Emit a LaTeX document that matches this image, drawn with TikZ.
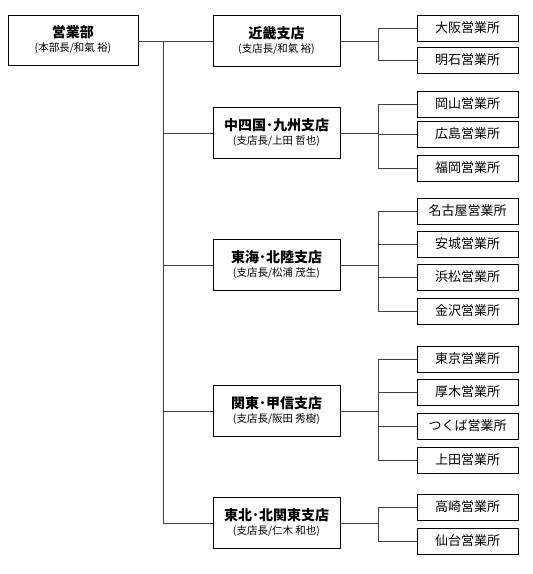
\documentclass[tikz,border=0pt]{standalone}
\usepackage{fontspec}
\setmainfont{Noto Sans CJK JP}
\newcommand{\ttlfont}{\fontsize{14}{16}\selectfont\bfseries}
\newcommand{\subfont}{\fontsize{10.5}{13}\selectfont}
\begin{document}
\begin{tikzpicture}[x=1pt,y=-1pt,
  topbox/.style={draw=black,line width=0.9pt,minimum width=130pt,minimum height=50pt,align=center,inner sep=0pt},
  branchbox/.style={draw=black,line width=0.9pt,minimum width=127pt,minimum height=51pt,align=center,inner sep=0pt},
  officebox/.style={draw=black,line width=0.9pt,minimum width=101pt,minimum height=26pt,inner sep=0pt,font=\fontsize{13}{15}\selectfont},
  conn/.style={draw=black!75,line width=0.8pt}]
\useasboundingbox (0,0) rectangle (533,574);
\node[topbox] (hq) at (73,40) {{\ttlfont 営業部}\\[2pt]{\subfont (本部長/和氣 裕)}};
\node[branchbox] (b1) at (276.5,41) {{\ttlfont 近畿支店}\\[2pt]{\subfont (支店長/和氣 裕)}};
\node[branchbox] (b2) at (276.5,133) {{\ttlfont 中四国･九州支店}\\[2pt]{\subfont (支店長/上田 哲也)}};
\node[branchbox] (b3) at (276.5,265) {{\ttlfont 東海･北陸支店}\\[2pt]{\subfont (支店長/松浦 茂生)}};
\node[branchbox] (b4) at (276.5,411) {{\ttlfont 関東･甲信支店}\\[2pt]{\subfont (支店長/阪田 秀樹)}};
\node[branchbox] (b5) at (276.5,523) {{\ttlfont 東北･北関東支店}\\[2pt]{\subfont (支店長/仁木 和也)}};
% offices
\node[officebox] (o1) at (467.5,28) {大阪営業所};
\node[officebox] (o2) at (467.5,60) {明石営業所};
\node[officebox] (o3) at (467.5,104) {岡山営業所};
\node[officebox] (o4) at (467.5,134) {広島営業所};
\node[officebox] (o5) at (467.5,168) {福岡営業所};
\node[officebox] (o6) at (467.5,211) {名古屋営業所};
\node[officebox] (o7) at (467.5,244) {安城営業所};
\node[officebox] (o8) at (467.5,277) {浜松営業所};
\node[officebox] (o9) at (467.5,311) {金沢営業所};
\node[officebox] (o10) at (467.5,359) {東京営業所};
\node[officebox] (o11) at (467.5,392) {厚木営業所};
\node[officebox] (o12) at (467.5,426) {つくば営業所};
\node[officebox] (o13) at (467.5,460) {上田営業所};
\node[officebox] (o14) at (467.5,507) {高崎営業所};
\node[officebox] (o15) at (467.5,541) {仙台営業所};
% trunk
\coordinate (tr) at (163,41);
\draw[conn] (hq.east |- tr) -- (tr);
\draw[conn] (tr) -- (tr |- b5.west);
\foreach \b in {b1,b2,b3,b4,b5} {\draw[conn] (tr |- \b.west) -- (\b.west);}
% buses
\coordinate (bx) at (378,0);
\draw[conn] (b1.east) -- (bx |- b1.east);
\draw[conn] (bx |- o1.west) -- (bx |- o2.west);
\draw[conn] (b2.east) -- (bx |- b2.east);
\draw[conn] (bx |- o3.west) -- (bx |- o5.west);
\draw[conn] (b3.east) -- (bx |- b3.east);
\draw[conn] (bx |- o6.west) -- (bx |- o9.west);
\draw[conn] (b4.east) -- (bx |- b4.east);
\draw[conn] (bx |- o10.west) -- (bx |- o13.west);
\draw[conn] (b5.east) -- (bx |- b5.east);
\draw[conn] (bx |- o14.west) -- (bx |- o15.west);
\foreach \o in {o1,o2,o3,o4,o5,o6,o7,o8,o9,o10,o11,o12,o13,o14,o15} {\draw[conn] (bx |- \o.west) -- (\o.west);}
\end{tikzpicture}
\end{document}
